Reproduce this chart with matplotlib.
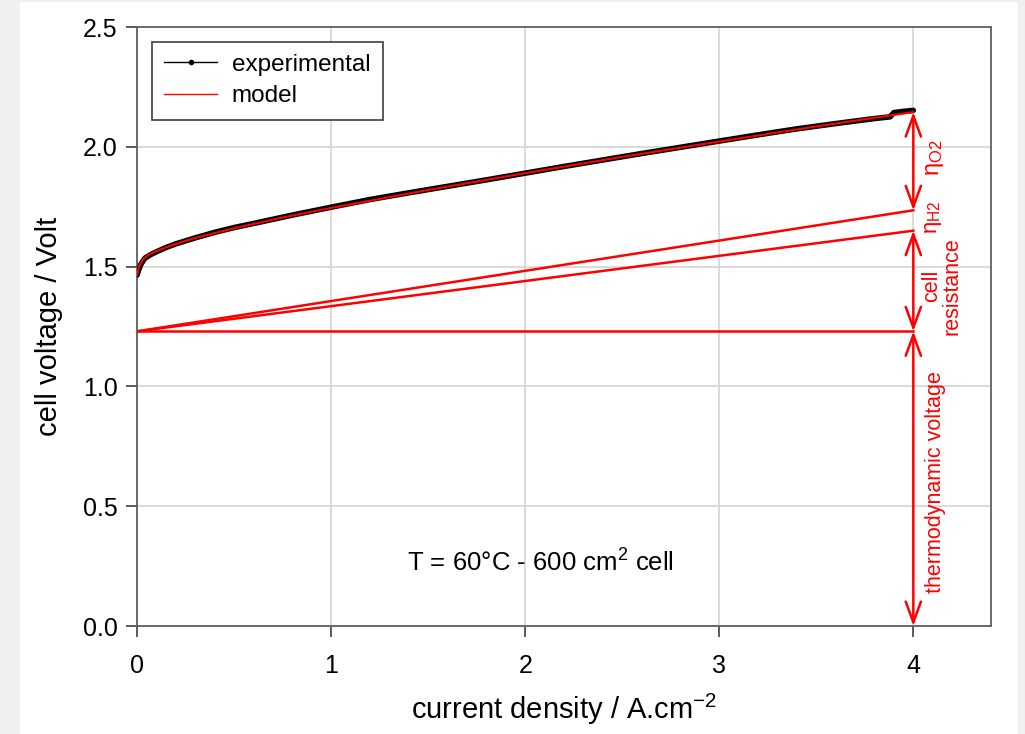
import matplotlib
matplotlib.use('Agg')
import matplotlib.pyplot as plt
from matplotlib.lines import Line2D
from matplotlib.patches import Rectangle

plt.rcParams['font.family'] = ['Liberation Sans', 'DejaVu Sans']
plt.rcParams['mathtext.default'] = 'regular'

# experimental polarisation curve
exp_j = [0, 0.01, 0.02, 0.04, 0.07, 0.1, 0.15, 0.2, 0.3, 0.4, 0.5, 0.6, 0.8, 1.0,
         1.2, 1.4, 1.6, 1.8, 2.0, 2.2, 2.4, 2.6, 2.8, 3.0, 3.2, 3.4, 3.6, 3.8,
         3.88, 3.9, 3.95, 4.0]
exp_v = [1.465, 1.49, 1.51, 1.535, 1.55, 1.562, 1.58, 1.595, 1.62, 1.643, 1.663, 1.68,
         1.715, 1.748, 1.78, 1.808, 1.835, 1.862, 1.89, 1.918, 1.945, 1.972, 1.998,
         2.024, 2.05, 2.075, 2.097, 2.118, 2.125, 2.143, 2.148, 2.152]

# model curve
mod_j = [0, 0.01, 0.03, 0.06, 0.1, 0.2, 0.3, 0.5, 0.75, 1.0, 1.5, 2.0, 2.5, 3.0, 3.5, 4.0]
mod_v = [1.465, 1.50, 1.53, 1.55, 1.565, 1.595, 1.62, 1.66, 1.705, 1.745, 1.82, 1.89,
         1.958, 2.022, 2.085, 2.145]

# model contributions
j_end = 4.0
v_thermo = 1.23
v_ohmic_end = 1.65
v_h2_end = 1.735

red = '#ff0000'

fig = plt.figure(figsize=(10.25, 7.34), dpi=100)
fig.patch.set_facecolor('#f0f0f0')
fig.patches.append(Rectangle((20 / 1025, 0), 998 / 1025, 732 / 734,
                             transform=fig.transFigure, facecolor='white',
                             edgecolor='none', zorder=-10))

ax = fig.add_axes([0.1337, 0.1471, 0.8331, 0.8161])

ax.plot(exp_j, exp_v, color='black', lw=4, solid_capstyle='round', zorder=3)
ax.plot(mod_j, mod_v, color=red, lw=1.5, zorder=4)

ax.plot([0, j_end], [v_thermo, v_thermo], color=red, lw=1.8, zorder=3)
ax.plot([0, j_end], [v_thermo, v_ohmic_end], color=red, lw=1.8, zorder=3)
ax.plot([0, j_end], [v_thermo, v_h2_end], color=red, lw=1.8, zorder=3)

arrow_props = dict(arrowstyle='<->,head_length=1.5,head_width=0.55', color=red, lw=1.8,
                   shrinkA=0, shrinkB=0, mutation_scale=10)
for top, bottom in [(mod_v[-1], v_h2_end), (v_ohmic_end, v_thermo), (v_thermo, 0)]:
    ax.annotate('', xy=(j_end, top), xytext=(j_end, bottom), arrowprops=arrow_props,
                annotation_clip=False, zorder=5)

ax.text(4.113, 1.953, r'η$_{O2}$', color=red, rotation=90, fontsize=17,
        ha='center', va='center')
ax.text(4.105, 1.705, r'η$_{H2}$', color=red, rotation=90, fontsize=16,
        ha='center', va='center')
ax.text(4.145, 1.42, 'cell\nresistance', color=red, rotation=90, fontsize=15.5,
        ha='center', va='center', linespacing=0.95)
ax.text(4.113, 0.60, 'thermodynamic voltage', color=red, rotation=90, fontsize=15.5,
        ha='center', va='center')

ax.text(2.08, 0.263, 'T = 60°C - 600 cm$^{2}$ cell', fontsize=18.5,
        ha='center', va='center')

ax.set_xlim(0, 4.4)
ax.set_ylim(0, 2.5)
ax.set_xticks([0, 1, 2, 3, 4])
ax.set_yticks([0, 0.5, 1.0, 1.5, 2.0, 2.5])
ax.set_yticklabels(['0.0', '0.5', '1.0', '1.5', '2.0', '2.5'])
ax.grid(True, color='#d4d4d4', lw=1.2)
ax.set_axisbelow(True)
ax.tick_params(direction='out', length=8, width=1.2, color='#404040', labelsize=18)
ax.tick_params(axis='x', pad=12)
ax.tick_params(axis='y', pad=6)
for s in ax.spines.values():
    s.set_color('#606060')
    s.set_linewidth(1.3)

ax.set_xlabel('current density / A.cm$^{-2}$', fontsize=21, labelpad=10)
ax.set_ylabel('cell voltage / Volt', fontsize=21, labelpad=14)

handles = [Line2D([], [], color='black', lw=1, marker='o', markersize=3),
           Line2D([], [], color=red, lw=1)]
leg = ax.legend(handles, ['experimental', 'model'], loc='upper left', fontsize=17.5,
                fancybox=False, framealpha=1, edgecolor='#404040',
                borderaxespad=0.6, handlelength=2.2, labelspacing=0.4,
                borderpad=0.5, handletextpad=0.6)
leg.get_frame().set_linewidth(1.2)

fig.savefig('out.png', dpi=100, facecolor=fig.get_facecolor())
